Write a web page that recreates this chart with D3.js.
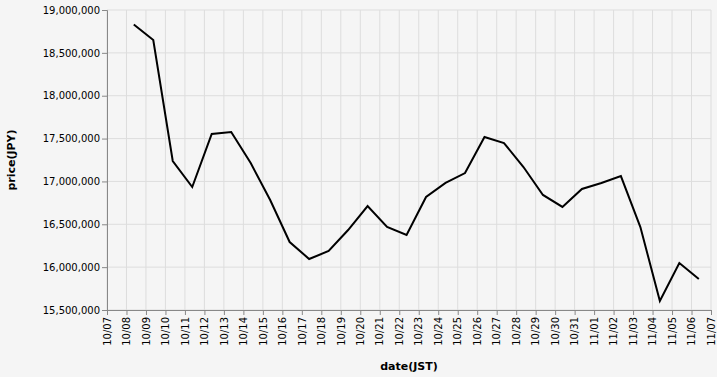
<!DOCTYPE html>
<html><head><meta charset="utf-8">
<script src="https://cdn.jsdelivr.net/npm/d3@7"></script>
<style>body{margin:0;background:#f5f5f5;}svg{display:block;font-family:"DejaVu Sans",sans-serif;}</style>
</head><body>
<svg id="c" width="717" height="377"></svg>
<script>
const dates = ["2023-10-08","2023-10-09","2023-10-10","2023-10-11","2023-10-12","2023-10-13","2023-10-14","2023-10-15","2023-10-16","2023-10-17","2023-10-18","2023-10-19","2023-10-20","2023-10-21","2023-10-22","2023-10-23","2023-10-24","2023-10-25","2023-10-26","2023-10-27","2023-10-28","2023-10-29","2023-10-30","2023-10-31","2023-11-01","2023-11-02","2023-11-03","2023-11-04","2023-11-05","2023-11-06"];
const prices = [18830000,18650000,17238000,16935000,17553000,17577000,17215000,16783000,16293000,16095000,16188000,16433000,16713000,16468000,16375000,16818000,16982000,17098000,17518000,17448000,17168000,16842000,16702000,16912000,16982000,17063000,16468000,15605000,16048000,15862000];
const yTicks = [15500000,16000000,16500000,17000000,17500000,18000000,18500000,19000000];
const xStart = "2023-10-07", xEnd = "2023-11-07";

const svg = d3.select("#c");
const m = {l:107, r:711, t:10, b:310};
const parse = d3.timeParse("%Y-%m-%dT%H:%M");
const data = dates.map((d,i)=>({t: parse(d+"T09:00"), v: prices[i]}));
const x = d3.scaleTime().domain([parse(xStart+"T00:00"), parse(xEnd+"T00:00")]).range([m.l, m.r]);
const y = d3.scaleLinear().domain([15500000,19000000]).range([m.b, m.t]);
const xTicks = d3.timeDay.range(parse(xStart+"T00:00"), d3.timeDay.offset(parse(xEnd+"T00:00"),1));

svg.append("rect").attr("width",717).attr("height",377).attr("fill","#f5f5f5");
const g = svg.append("g");
g.selectAll(".vg").data(xTicks).join("line").attr("x1",d=>x(d)).attr("x2",d=>x(d)).attr("y1",m.t).attr("y2",m.b).attr("stroke","#ddd").attr("stroke-width",1);
g.selectAll(".hg").data(yTicks).join("line").attr("x1",m.l).attr("x2",m.r).attr("y1",d=>y(d)).attr("y2",d=>y(d)).attr("stroke","#ddd").attr("stroke-width",1);

const fmt = d3.format(",");
const ya = svg.append("g").attr("transform",`translate(${m.l},0)`).call(d3.axisLeft(y).tickValues(yTicks).tickFormat(fmt).tickSize(5).tickPadding(2));
const xa = svg.append("g").attr("transform",`translate(0,${m.b})`).call(d3.axisBottom(x).tickValues(xTicks).tickFormat(d3.timeFormat("%m/%d")).tickSize(5));
[ya,xa].forEach(a=>{a.select(".domain").attr("stroke","#888");a.selectAll(".tick line").attr("stroke","#888");a.selectAll("text").attr("fill","#000").attr("font-size",10).attr("font-family","DejaVu Sans, sans-serif");});
xa.selectAll("text").attr("transform","rotate(-90)").attr("text-anchor","end").attr("x",-7).attr("y",0).attr("dy","0.32em");

svg.append("path").datum(data).attr("fill","none").attr("stroke","#000").attr("stroke-width",2)
  .attr("d", d3.line().x(d=>x(d.t)).y(d=>y(d.v)));

svg.append("text").attr("x",(m.l+m.r)/2).attr("y",370).attr("text-anchor","middle").attr("font-weight","bold").attr("font-size",11).text("date(JST)");
svg.append("text").attr("transform",`translate(15,${(m.t+m.b)/2}) rotate(-90)`).attr("text-anchor","middle").attr("font-weight","bold").attr("font-size",11).text("price(JPY)");
</script>
</body></html>
